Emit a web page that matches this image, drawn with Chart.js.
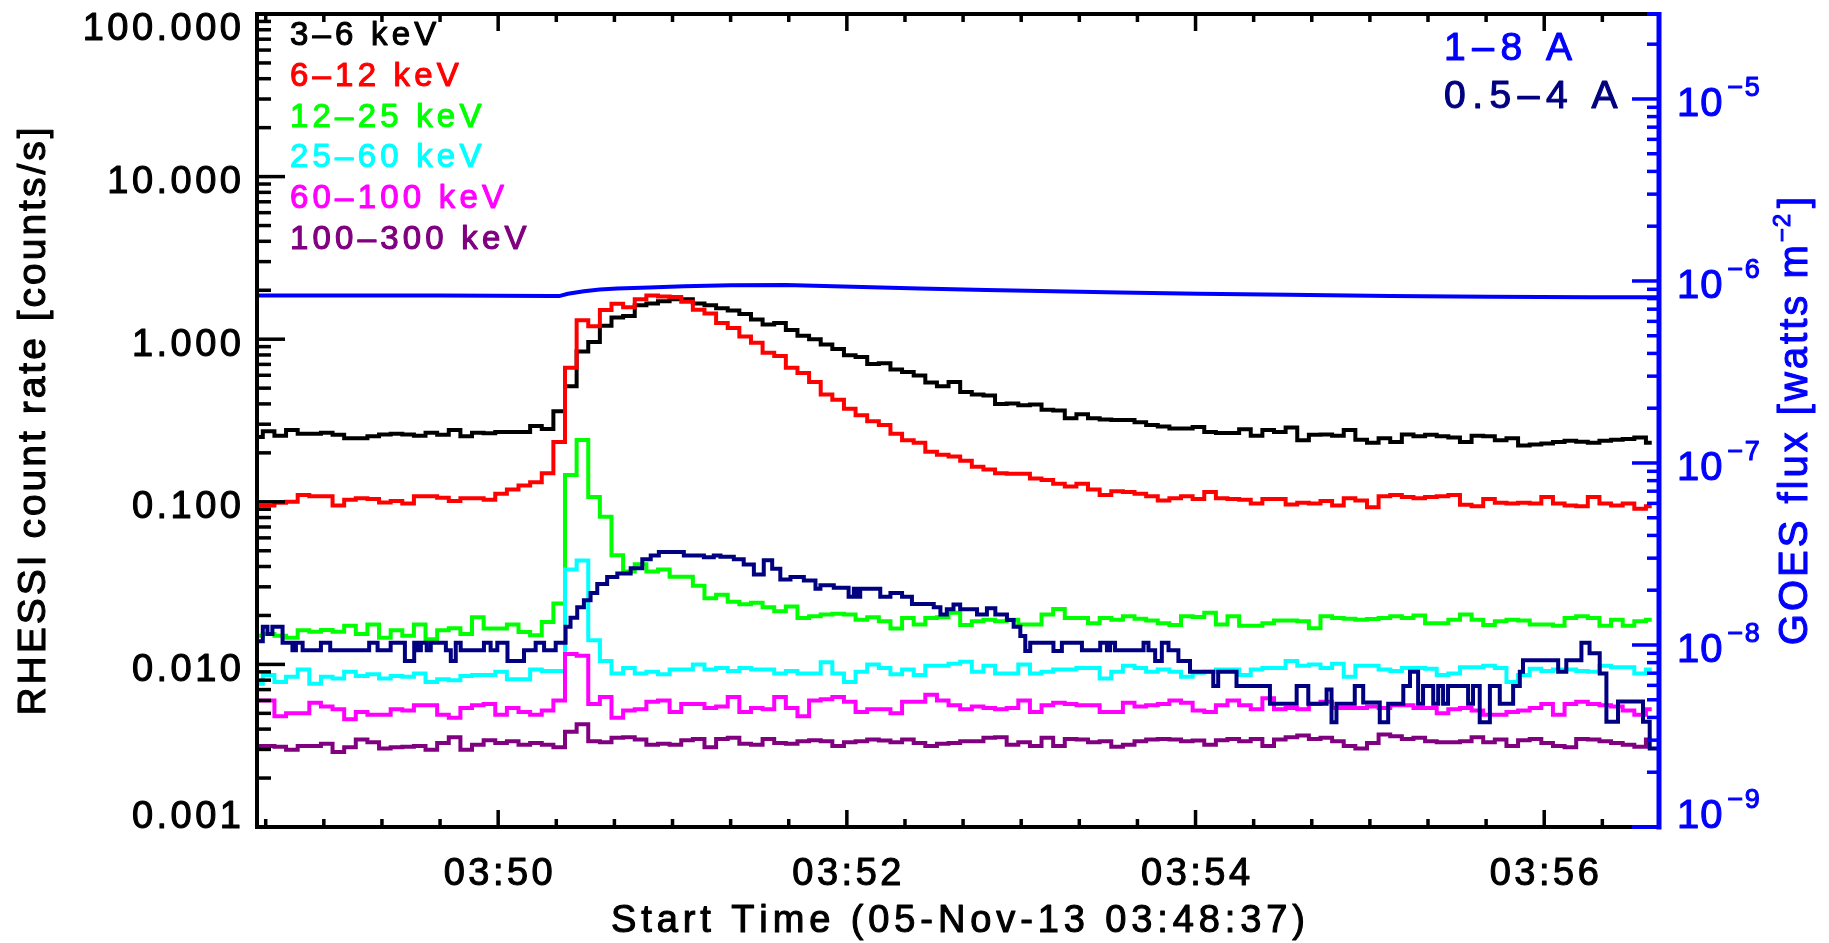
<!DOCTYPE html>
<html>
<head>
<meta charset="utf-8">
<title>RHESSI / GOES light curves</title>
<script src="https://cdn.jsdelivr.net/npm/chart.js"></script>
<style>
    html, body { margin: 0; padding: 0; background: #fff; }
    #wrap { width: 1829px; height: 943px; }
</style>
</head>
<body>
<div id="wrap"><canvas id="lc" width="1829" height="943"></canvas></div>
<script>
// time is in seconds after 03:48:00 UT, 05-Nov-2013
const timeMin = 37;
const timeMax = 519.5;
const timeTicks = [120, 240, 360, 480];
const timeTickLabels = ['03:50', '03:52', '03:54', '03:56'];
const xTitle = 'Start Time (05-Nov-13 03:48:37)';

// RHESSI 4 s bins, first bin centred at 03:48:37
const rhessiStart = 37;
const rhessiCadence = 4;
const rhessiBands = ['3–6 keV', '6–12 keV', '12–25 keV', '25–60 keV', '60–100 keV', '100–300 keV'];
const rhessiColors = ['#000000', '#ff0000', '#00ff00', '#00ffff', '#ff00ff', '#800080'];

const band3to6 = [
    0.250, 0.272, 0.255, 0.276, 0.262, 0.262, 0.266, 0.258, 0.246, 0.246, 0.253, 0.259, 0.262, 0.259, 0.255, 0.266, 0.258, 0.276, 0.253, 0.266,
    0.264, 0.269, 0.269, 0.269, 0.293, 0.280, 0.360, 0.514, 0.84, 0.96, 1.21, 1.36, 1.39, 1.62, 1.66, 1.71, 1.76, 1.76, 1.66, 1.62, 1.55,
    1.50, 1.43, 1.32, 1.23, 1.26, 1.14, 1.05, 1.00, 0.929, 0.870, 0.798, 0.778, 0.703, 0.711, 0.652, 0.629, 0.598, 0.541, 0.514, 0.546,
    0.474, 0.457, 0.451, 0.399, 0.403, 0.393, 0.397, 0.368, 0.364, 0.326, 0.346, 0.326, 0.321, 0.318, 0.318, 0.308, 0.297, 0.290, 0.282, 0.282, 0.288,
    0.269, 0.265, 0.265, 0.279, 0.255, 0.276, 0.269, 0.286, 0.239, 0.258, 0.259, 0.255, 0.276, 0.241, 0.231, 0.246, 0.233, 0.259, 0.253, 0.258,
    0.253, 0.249, 0.233, 0.255, 0.253, 0.239, 0.246, 0.222, 0.225, 0.228, 0.233, 0.237, 0.234, 0.231, 0.237, 0.241, 0.243, 0.249, 0.231
];
const band6to12 = [
    0.095, 0.095, 0.0986, 0.100, 0.110, 0.108, 0.108, 0.095, 0.103, 0.105, 0.104, 0.099, 0.101, 0.0975, 0.108, 0.108, 0.106, 0.101, 0.105, 0.105,
    0.103, 0.112, 0.119, 0.126, 0.132, 0.150, 0.233, 0.668, 1.31, 1.20, 1.51, 1.65, 1.57, 1.76, 1.86, 1.83, 1.82, 1.70, 1.52, 1.44, 1.26,
    1.17, 1.04, 0.95, 0.825, 0.787, 0.668, 0.619, 0.546, 0.457, 0.424, 0.373, 0.341, 0.313, 0.297, 0.262, 0.239, 0.231, 0.203, 0.195, 0.190,
    0.179, 0.164, 0.158, 0.150, 0.149, 0.149, 0.139, 0.136, 0.129, 0.124, 0.129, 0.119, 0.110, 0.116, 0.115, 0.112, 0.108, 0.102, 0.105, 0.108, 0.104,
    0.115, 0.105, 0.104, 0.103, 0.0975, 0.104, 0.104, 0.0961, 0.0986, 0.0975, 0.101, 0.095, 0.105, 0.102, 0.0927, 0.108, 0.110, 0.107, 0.105, 0.107,
    0.108, 0.110, 0.096, 0.0938, 0.104, 0.0986, 0.0975, 0.0986, 0.0975, 0.107, 0.0975, 0.095, 0.094, 0.107, 0.0975, 0.095, 0.0975, 0.0905, 0.094
];
const band12to25 = [
    0.0150, 0.0154, 0.0150, 0.0146, 0.0162, 0.0159, 0.0163, 0.0159, 0.0173, 0.0154, 0.0176, 0.0146, 0.0162, 0.0150, 0.0176, 0.0143, 0.0162, 0.0167, 0.0154, 0.0195,
    0.0166, 0.0166, 0.0176, 0.0158, 0.0151, 0.0182, 0.0237, 0.146, 0.240, 0.107, 0.0809, 0.0469, 0.0373, 0.0413, 0.0373, 0.0383, 0.0346, 0.0346, 0.0305, 0.0255, 0.0268,
    0.0243, 0.0234, 0.0239, 0.0225, 0.0212, 0.0227, 0.0193, 0.0198, 0.0203, 0.0205, 0.0203, 0.0188, 0.0195, 0.0184, 0.0166, 0.0193, 0.0176, 0.0193, 0.0195, 0.0208,
    0.0175, 0.0184, 0.0188, 0.0184, 0.0188, 0.0176, 0.0176, 0.0203, 0.0219, 0.0193, 0.0193, 0.0179, 0.0193, 0.0188, 0.0198, 0.0191, 0.0186, 0.0179, 0.0175, 0.0198, 0.0196,
    0.0208, 0.0176, 0.0198, 0.0173, 0.0173, 0.0179, 0.0186, 0.0186, 0.0184, 0.0167, 0.0198, 0.0193, 0.0191, 0.0188, 0.0190, 0.0193, 0.0198, 0.0193, 0.0200, 0.0179,
    0.0179, 0.0188, 0.0203, 0.0188, 0.0175, 0.0184, 0.0188, 0.0186, 0.0176, 0.0176, 0.0173, 0.0193, 0.0198, 0.0193, 0.0173, 0.0188, 0.0173, 0.0184, 0.0188
];
const band25to60 = [
    0.0076, 0.0086, 0.0078, 0.0084, 0.0093, 0.0076, 0.0084, 0.0082, 0.0090, 0.0085, 0.0087, 0.0082, 0.0085, 0.0084, 0.0088, 0.0078, 0.0081, 0.0080, 0.0085, 0.0086,
    0.0086, 0.0090, 0.0081, 0.0081, 0.0093, 0.0091, 0.0091, 0.0383, 0.0435, 0.0141, 0.0105, 0.0088, 0.0095, 0.0088, 0.0090, 0.0087, 0.0093, 0.0093, 0.0100, 0.0093, 0.0095,
    0.0091, 0.0095, 0.0093, 0.0093, 0.0088, 0.0091, 0.0088, 0.0088, 0.0103, 0.0088, 0.0078, 0.0090, 0.0100, 0.0095, 0.0087, 0.0093, 0.0086, 0.0098, 0.0098, 0.0101,
    0.0104, 0.0090, 0.0098, 0.0088, 0.0088, 0.0100, 0.0088, 0.0090, 0.0093, 0.0093, 0.0095, 0.0095, 0.0082, 0.0090, 0.0098, 0.0095, 0.0090, 0.0093, 0.0090, 0.0084, 0.0089,
    0.0090, 0.0093, 0.0093, 0.0086, 0.0093, 0.0095, 0.0095, 0.0105, 0.0098, 0.0100, 0.0095, 0.0101, 0.0084, 0.0098, 0.0098, 0.0093, 0.0091, 0.0095, 0.0095, 0.0094,
    0.0086, 0.0088, 0.0096, 0.0096, 0.0098, 0.0095, 0.0078, 0.0086, 0.0094, 0.0091, 0.0093, 0.0093, 0.0091, 0.0090, 0.0098, 0.0096, 0.0096, 0.0088, 0.0093
];
const band60to100 = [
    0.0060, 0.0060, 0.0048, 0.0050, 0.0050, 0.0058, 0.0055, 0.0053, 0.0046, 0.0051, 0.0049, 0.0049, 0.0053, 0.0052, 0.0056, 0.0056, 0.0049, 0.0047, 0.0054, 0.0056,
    0.0057, 0.0049, 0.0054, 0.0051, 0.0049, 0.0052, 0.0060, 0.0116, 0.0113, 0.0057, 0.0063, 0.0047, 0.0052, 0.0053, 0.0059, 0.0060, 0.0051, 0.0057, 0.0057, 0.0054, 0.0055,
    0.0063, 0.0051, 0.0054, 0.0053, 0.0063, 0.0054, 0.0048, 0.0060, 0.0061, 0.0063, 0.0059, 0.0051, 0.0053, 0.0053, 0.0050, 0.0059, 0.0059, 0.0065, 0.0060, 0.0056,
    0.0053, 0.0055, 0.0054, 0.0053, 0.0054, 0.0060, 0.0051, 0.0056, 0.0058, 0.0057, 0.0056, 0.0056, 0.0051, 0.0051, 0.0058, 0.0055, 0.0056, 0.0057, 0.0060, 0.0058, 0.0052,
    0.0051, 0.0056, 0.0060, 0.0056, 0.0053, 0.0062, 0.0053, 0.0054, 0.0053, 0.0057, 0.0059, 0.0054, 0.0054, 0.0054, 0.0055, 0.0054, 0.0056, 0.0056, 0.0054, 0.0054,
    0.0050, 0.0053, 0.0054, 0.0052, 0.0049, 0.0049, 0.0051, 0.0052, 0.0054, 0.0057, 0.0049, 0.0057, 0.0059, 0.0057, 0.0056, 0.0055, 0.0052, 0.0049, 0.0053
];
const band100to300 = [
    0.00315, 0.00315, 0.00312, 0.00299, 0.00315, 0.00315, 0.00325, 0.00289, 0.00309, 0.00345, 0.00332, 0.00304, 0.00309, 0.00312, 0.00315, 0.00299, 0.00328, 0.00357, 0.00299, 0.00320,
    0.00342, 0.00328, 0.00337, 0.00320, 0.00328, 0.00320, 0.00309, 0.00385, 0.00429, 0.00337, 0.00332, 0.00354, 0.00357, 0.00345, 0.00320, 0.00325, 0.00320, 0.00342, 0.00348, 0.00309, 0.00348,
    0.00354, 0.00325, 0.00320, 0.00348, 0.00328, 0.00325, 0.00337, 0.00342, 0.00337, 0.00315, 0.00332, 0.00337, 0.00345, 0.00340, 0.00332, 0.00345, 0.00328, 0.00315, 0.00325, 0.00328,
    0.00337, 0.00337, 0.00354, 0.00357, 0.00320, 0.00332, 0.00315, 0.00354, 0.00315, 0.00348, 0.00345, 0.00332, 0.00337, 0.00312, 0.00320, 0.00337, 0.00345, 0.00348, 0.00345, 0.00337, 0.00340,
    0.00320, 0.00342, 0.00348, 0.00337, 0.00348, 0.00315, 0.00345, 0.00357, 0.00366, 0.00348, 0.00354, 0.00337, 0.00315, 0.00304, 0.00328, 0.00371, 0.00362, 0.00348, 0.00354, 0.00337,
    0.00332, 0.00332, 0.00337, 0.00357, 0.00332, 0.00345, 0.00315, 0.00342, 0.00348, 0.00328, 0.00315, 0.00309, 0.00348, 0.00345, 0.00337, 0.00328, 0.00320, 0.00312, 0.00345
];
const rhessiSeries = [band3to6, band6to12, band12to25, band25to60, band60to100, band100to300];

// GOES 1-8 A flux [W m^-2]
const goesLongTimes = [37, 100, 138, 141, 144, 149.5, 155, 161, 172, 184, 200, 219, 242, 265, 288, 311, 334, 361, 392, 427, 461, 496, 519.5];
const goesLongFlux = [8.31e-7, 8.31e-7, 8.28e-7, 8.26e-7, 8.50e-7, 8.77e-7, 8.97e-7, 9.10e-7, 9.22e-7, 9.35e-7, 9.48e-7, 9.50e-7, 9.31e-7,
    9.10e-7, 8.93e-7, 8.77e-7, 8.65e-7, 8.50e-7, 8.39e-7, 8.28e-7, 8.20e-7, 8.13e-7, 8.13e-7];

// GOES 0.5-4 A flux [W m^-2], level changes of the quantised 2 s record
const goesShortTimes = [
    37, 39, 40.6, 42.3, 45.8, 49.2, 50.4, 52.7, 59.0, 62.2, 75.6, 78.5, 83.0, 87.9, 91.1, 92.2, 93.4, 95.4, 96.8, 102.0,
    103.7, 105.4, 107.1, 115.1, 117.4, 119.7, 123.2, 128.9, 132.9, 135.8, 139.8, 143.2, 144.9, 147.2, 149.5, 151.8, 154.1, 157.5, 161.0, 165.6,
    169.6, 172.5, 175.3, 183.9, 190.8, 194.2, 196.5, 201.1, 204.5, 208.0, 211.4, 214.3, 217.1, 220.6, 225.2, 229.2, 230.9, 235.5, 240.6, 242.4,
    243.5, 244.6, 251.5, 255.0, 259.0, 262.4, 269.9, 272.2, 274.4, 276.7, 279.0, 284.8, 288.2, 291.1, 295.1, 297.4, 299.7, 301.4, 303.1, 311.1,
    314.0, 320.9, 327.2, 329.5, 330.6, 332.3, 342.1, 343.8, 346.1, 348.4, 350.7, 354.1, 358.1, 366.1, 367.8, 374.1, 385.6, 394.8, 398.8, 405.1,
    406.8, 408.5, 414.8, 417.7, 423.4, 426.3, 431.5, 433.8, 436.6, 438.3, 441.8, 443.5, 445.2, 446.9, 453.8, 455.5, 457.8, 461.3, 464.7, 469.3,
    471.6, 472.7, 484.8, 487.6, 492.8, 495.6, 499.1, 501.4, 505.4, 514.0, 516.3, 519.5
];
const goesShortFlux = [
    1.05e-8, 1.26e-8, 1.15e-8, 1.26e-8, 1.03e-8, 9.35e-9, 1.03e-8, 9.35e-9, 1.03e-8, 9.35e-9, 1.03e-8, 9.35e-9, 1.03e-8, 8.17e-9, 1.03e-8, 9.35e-9, 1.03e-8, 9.35e-9, 1.03e-8, 9.35e-9,
    8.17e-9, 1.03e-8, 9.35e-9, 1.03e-8, 9.35e-9, 1.03e-8, 8.17e-9, 9.35e-9, 1.03e-8, 9.35e-9, 1.03e-8, 1.26e-8, 1.41e-8, 1.61e-8, 1.76e-8, 1.93e-8, 2.16e-8, 2.36e-8, 2.47e-8, 2.64e-8,
    2.96e-8, 3.10e-8, 3.24e-8, 3.10e-8, 3.03e-8, 3.10e-8, 3.05e-8, 2.96e-8, 2.77e-8, 2.44e-8, 2.92e-8, 2.62e-8, 2.29e-8, 2.36e-8, 2.26e-8, 2.04e-8, 2.13e-8, 2.06e-8, 1.84e-8, 2.04e-8,
    1.84e-8, 2.04e-8, 1.84e-8, 1.93e-8, 1.84e-8, 1.68e-8, 1.61e-8, 1.47e-8, 1.57e-8, 1.67e-8, 1.57e-8, 1.47e-8, 1.59e-8, 1.47e-8, 1.37e-8, 1.26e-8, 1.12e-8, 9.26e-9, 1.03e-8, 9.26e-9,
    1.03e-8, 9.35e-9, 1.03e-8, 9.35e-9, 1.03e-8, 9.35e-9, 1.03e-8, 9.35e-9, 8.17e-9, 1.03e-8, 9.35e-9, 8.17e-9, 7.13e-9, 5.95e-9, 7.13e-9, 5.95e-9, 4.75e-9, 5.95e-9, 4.75e-9, 5.69e-9,
    3.76e-9, 4.75e-9, 5.95e-9, 4.83e-9, 3.76e-9, 4.75e-9, 5.95e-9, 7.13e-9, 4.75e-9, 5.95e-9, 4.75e-9, 5.95e-9, 4.75e-9, 5.95e-9, 4.75e-9, 5.95e-9, 3.76e-9, 5.95e-9, 4.75e-9, 5.95e-9,
    7.13e-9, 8.24e-9, 7.13e-9, 8.24e-9, 1.03e-8, 9.02e-9, 6.97e-9, 3.79e-9, 4.90e-9, 3.79e-9, 2.70e-9, 2.70e-9
];
const goesBands = ['1–8 A', '0.5–4 A'];
const goesColors = ['#0000ff', '#000080'];

// axis ranges and labels
const rhessiMin = 0.001, rhessiMax = 100;
const rhessiTickValues = [0.001, 0.01, 0.1, 1, 10, 100];
const rhessiTickLabels = ['0.001', '0.010', '0.100', '1.000', '10.000', '100.000'];
const goesMin = 1e-9, goesMax = 2.93e-5;
const goesTickValues = [1e-9, 1e-8, 1e-7, 1e-6, 1e-5];
const goesTickExponents = ['−9', '−8', '−7', '−6', '−5'];
const yTitleLeft = 'RHESSI count rate [counts/s]';
const yTitleRight = ['GOES flux [watts m', '−2', ']'];

const FONT = '"Liberation Sans", Arial, sans-serif';
const AXIS_BLUE = '#0000ff';

// letter-spaced text, filled and lightly stroked to get the heavier plot font
function spacedText(ctx, text, x, y, gap, align) {
    const chars = [...text];
    const widths = chars.map(ch => ctx.measureText(ch).width);
    const total = widths.reduce((s, w) => s + w, 0) + gap * (chars.length - 1);
    let cx = x;
    if (align === 'right') cx = x - total;
    if (align === 'center') cx = x - total / 2;
    ctx.strokeStyle = ctx.fillStyle;
    ctx.lineWidth = 1.1;
    ctx.lineJoin = 'round';
    chars.forEach((ch, i) => {
        ctx.fillText(ch, cx, y);
        ctx.strokeText(ch, cx, y);
        cx += widths[i] + gap;
    });
    return total;
}

function spacedWidth(ctx, text, gap) {
    const chars = [...text];
    return chars.reduce((s, ch) => s + ctx.measureText(ch).width, 0) + gap * (chars.length - 1);
}

// IDL style frame: inward ticks, minor ticks, labels and titles
const idlFrame = {
    id: 'idlFrame',
    afterDatasetsDraw(chart) {
        const { ctx, chartArea: a, scales } = chart;
        const xs = scales.x, yl = scales.yRhessi, yr = scales.yGoes;
        ctx.save();
        ctx.textAlign = 'left';
        ctx.textBaseline = 'alphabetic';
        ctx.lineCap = 'butt';

        // time ticks, every 20 s, long at the labelled ones
        ctx.lineWidth = 3.5;
        ctx.strokeStyle = '#000';
        for (let t = 40; t < timeMax; t += 20) {
            const px = xs.getPixelForValue(t);
            const len = timeTicks.includes(t) ? 17 : 8;
            ctx.beginPath();
            ctx.moveTo(px, a.bottom); ctx.lineTo(px, a.bottom - len);
            ctx.moveTo(px, a.top); ctx.lineTo(px, a.top + len);
            ctx.stroke();
        }

        // RHESSI axis ticks (left)
        for (let d = -3; d <= 2; d++) {
            for (let m = 1; m <= 9; m++) {
                const v = m * Math.pow(10, d);
                if (v < rhessiMin * 0.999 || v > rhessiMax * 1.001) continue;
                const py = yl.getPixelForValue(v);
                ctx.beginPath();
                ctx.moveTo(a.left, py); ctx.lineTo(a.left + (m === 1 ? 28 : 14), py);
                ctx.stroke();
            }
        }

        // GOES axis ticks (right)
        ctx.strokeStyle = AXIS_BLUE;
        for (let d = -9; d <= -5; d++) {
            for (let m = 1; m <= 9; m++) {
                const v = m * Math.pow(10, d);
                if (v > goesMax) continue;
                const py = yr.getPixelForValue(v);
                ctx.beginPath();
                ctx.moveTo(a.right, py); ctx.lineTo(a.right - (m === 1 ? 27 : 12), py);
                ctx.stroke();
            }
        }

        // frame
        ctx.lineWidth = 4;
        ctx.strokeStyle = '#000';
        ctx.beginPath();
        ctx.moveTo(a.left, a.top - 2); ctx.lineTo(a.left, a.bottom + 2);
        ctx.moveTo(a.left - 2, a.top); ctx.lineTo(a.right - 12, a.top);
        ctx.moveTo(a.left - 2, a.bottom); ctx.lineTo(a.right - 27, a.bottom);
        ctx.stroke();
        ctx.strokeStyle = AXIS_BLUE;
        ctx.beginPath();
        ctx.moveTo(a.right - 12, a.top); ctx.lineTo(a.right, a.top);
        ctx.moveTo(a.right - 27, a.bottom); ctx.lineTo(a.right, a.bottom);
        ctx.stroke();
        ctx.lineWidth = 5;
        ctx.beginPath();
        ctx.moveTo(a.right, a.top - 2); ctx.lineTo(a.right, a.bottom + 2.5);
        ctx.stroke();

        // left tick labels
        ctx.fillStyle = '#000';
        ctx.font = '38px ' + FONT;
        rhessiTickValues.forEach((v, i) => {
            const py = yl.getPixelForValue(v);
            let base = py + 16.5;
            if (i === 0) base = a.bottom + 1;
            if (i === rhessiTickValues.length - 1) base = a.top + 26;
            spacedText(ctx, rhessiTickLabels[i], a.left - 16, base, 3.5, 'right');
        });

        // time labels
        timeTicks.forEach((t, i) => {
            spacedText(ctx, timeTickLabels[i], xs.getPixelForValue(t), 885, 3.5, 'center');
        });
        spacedText(ctx, xTitle, (a.left + a.right) / 2, 932, 4.9, 'center');

        // right tick labels 10^n
        ctx.fillStyle = AXIS_BLUE;
        goesTickValues.forEach((v, i) => {
            const py = yr.getPixelForValue(v);
            const base = i === 0 ? a.bottom + 1 : py + 17.5;
            ctx.font = '40px ' + FONT;
            const w = spacedText(ctx, '10', a.right + 18, base, 1, 'left');
            ctx.font = '27px ' + FONT;
            spacedText(ctx, goesTickExponents[i], a.right + 18 + w + 5, base - 20, 1.5, 'left');
        });

        // left title
        ctx.fillStyle = '#000';
        ctx.font = '39px ' + FONT;
        ctx.save();
        ctx.translate(45, 421.5);
        ctx.rotate(-Math.PI / 2);
        spacedText(ctx, yTitleLeft, 0, 0, 3, 'center');
        ctx.restore();

        // right title with superscript
        ctx.fillStyle = AXIS_BLUE;
        ctx.save();
        ctx.translate(1807, 421);
        ctx.rotate(-Math.PI / 2);
        ctx.font = '40px ' + FONT;
        const w0 = spacedWidth(ctx, yTitleRight[0], 3);
        const w2 = spacedWidth(ctx, yTitleRight[2], 3);
        ctx.font = '24px ' + FONT;
        const w1 = spacedWidth(ctx, yTitleRight[1], 1);
        let cx = -(w0 + 3 + w1 + 6 + w2) / 2;
        ctx.font = '40px ' + FONT;
        spacedText(ctx, yTitleRight[0], cx, 0, 3, 'left');
        cx += w0 + 3;
        ctx.font = '24px ' + FONT;
        spacedText(ctx, yTitleRight[1], cx, -17, 1, 'left');
        cx += w1 + 6;
        ctx.font = '40px ' + FONT;
        spacedText(ctx, yTitleRight[2], cx, 0, 3, 'left');
        ctx.restore();

        // RHESSI legend
        ctx.font = '33px ' + FONT;
        rhessiBands.forEach((label, i) => {
            ctx.fillStyle = rhessiColors[i];
            spacedText(ctx, label, 290, 45 + i * 40.8, 4.2, 'left');
        });

        // GOES legend
        ctx.font = '39px ' + FONT;
        goesBands.forEach((label, i) => {
            ctx.fillStyle = goesColors[i];
            spacedText(ctx, label, 1444, 60 + i * 48, 6.5, 'left');
        });

        ctx.restore();
    }
};

const rhessiDatasets = rhessiSeries.map((vals, k) => ({
    label: rhessiBands[k],
    data: vals.map((v, i) => ({ x: rhessiStart + i * rhessiCadence, y: v })),
    borderColor: rhessiColors[k],
    yAxisID: 'yRhessi',
    stepped: 'middle',
    order: 10 - k
}));

const goesDatasets = [
    {
        label: goesBands[0],
        data: goesLongTimes.map((t, i) => ({ x: t, y: goesLongFlux[i] })),
        borderColor: goesColors[0],
        yAxisID: 'yGoes',
        stepped: false,
        order: 1
    },
    {
        label: goesBands[1],
        data: goesShortTimes.map((t, i) => ({ x: t, y: goesShortFlux[i] })),
        borderColor: goesColors[1],
        yAxisID: 'yGoes',
        stepped: 'before',
        order: 2
    }
];

new Chart(document.getElementById('lc'), {
    type: 'line',
    data: { datasets: goesDatasets.concat(rhessiDatasets) },
    options: {
        responsive: false,
        animation: false,
        events: [],
        layout: { padding: { left: 257, right: 170, top: 14, bottom: 116 } },
        elements: {
            point: { radius: 0 },
            line: { borderWidth: 4, tension: 0, fill: false, borderJoinStyle: 'miter' }
        },
        scales: {
            x: { type: 'linear', min: timeMin, max: timeMax, display: false },
            yRhessi: { type: 'logarithmic', position: 'left', min: rhessiMin, max: rhessiMax, display: false },
            yGoes: { type: 'logarithmic', position: 'right', min: goesMin, max: goesMax, display: false }
        },
        plugins: {
            legend: { display: false },
            tooltip: { enabled: false }
        }
    },
    plugins: [idlFrame]
});
</script>
</body>
</html>
